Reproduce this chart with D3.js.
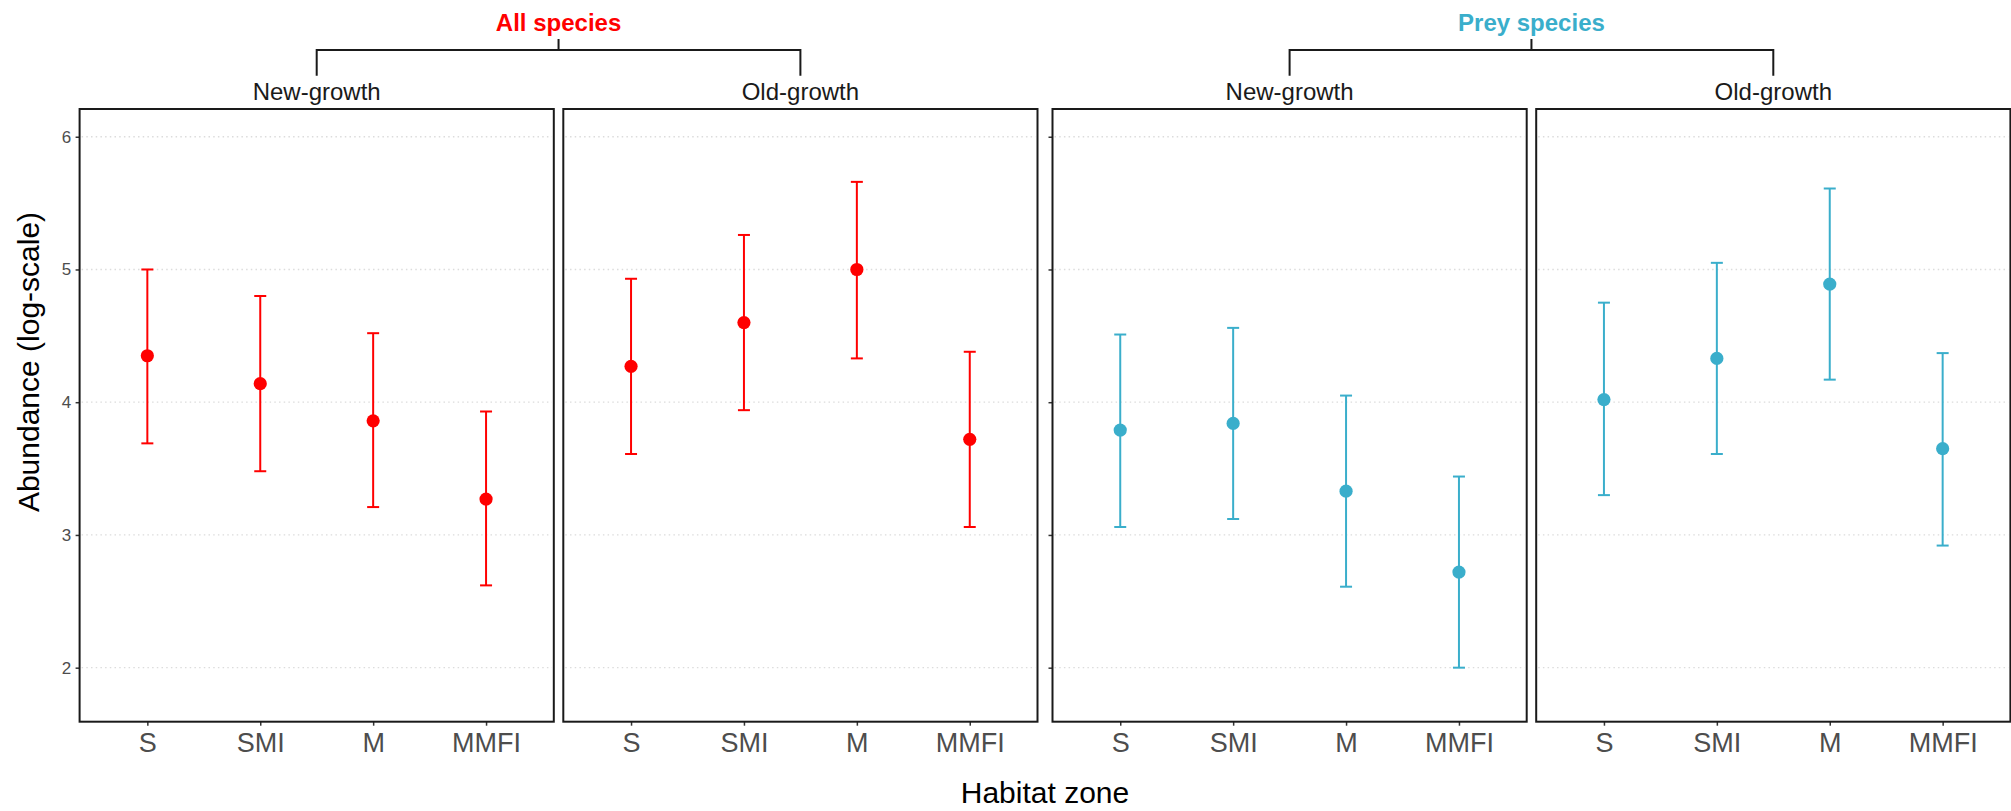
<!DOCTYPE html>
<html>
<head>
<meta charset="utf-8">
<script src="https://cdn.jsdelivr.net/npm/d3@7"></script>
<style>
  html, body { margin: 0; padding: 0; background: #fff; }
  svg { display: block; }
</style>
</head>
<body>
<div id="chart"></div>
<script>
const zones = ["S", "SMI", "M", "MMFI"];
const habitats = ["New-growth", "Old-growth"];
const groups = ["All species", "Prey species"];
const groupColors = ["#FF0000", "#3AAECB"];
const yTicks = [2, 3, 4, 5, 6];

// All species
const allNewMean = [4.35, 4.14, 3.86, 3.27];
const allNewLower = [3.69, 3.48, 3.21, 2.62];
const allNewUpper = [5.00, 4.80, 4.52, 3.93];
const allOldMean = [4.27, 4.60, 5.00, 3.72];
const allOldLower = [3.61, 3.94, 4.33, 3.06];
const allOldUpper = [4.93, 5.26, 5.66, 4.38];

// Prey species
const preyNewMean = [3.79, 3.84, 3.33, 2.72];
const preyNewLower = [3.06, 3.12, 2.61, 2.00];
const preyNewUpper = [4.51, 4.56, 4.05, 3.44];
const preyOldMean = [4.02, 4.33, 4.89, 3.65];
const preyOldLower = [3.30, 3.61, 4.17, 2.92];
const preyOldUpper = [4.75, 5.05, 5.61, 4.37];

const panels = [
  { group: 0, habitat: 0, mean: allNewMean, lo: allNewLower, hi: allNewUpper },
  { group: 0, habitat: 1, mean: allOldMean, lo: allOldLower, hi: allOldUpper },
  { group: 1, habitat: 0, mean: preyNewMean, lo: preyNewLower, hi: preyNewUpper },
  { group: 1, habitat: 1, mean: preyOldMean, lo: preyOldLower, hi: preyOldUpper }
];

const width = 2011, height = 811;
const font = "'Liberation Sans', Arial, Helvetica, sans-serif";
const panelTop = 109, panelBottom = 721.7;
const left0 = 79.6, panelW = 474.2, innerGap = 9.5, groupGap = 15;

const panelLeft = i => left0 + i * (panelW + innerGap) + (i >= 2 ? groupGap - innerGap : 0);

const y = d3.scaleLinear().domain([1.593, 6.209]).range([panelBottom, panelTop]);

const svg = d3.select("#chart").append("svg")
  .attr("width", width)
  .attr("height", height)
  .attr("viewBox", [0, 0, width, height])
  .style("font-family", font);

panels.forEach((p, i) => {
  const x0 = panelLeft(i);
  const x = d3.scalePoint().domain(zones).range([x0, x0 + panelW]).padding(0.6);
  const color = groupColors[p.group];
  const g = svg.append("g");

  // dotted grid
  g.selectAll("line.grid")
    .data(yTicks)
    .join("line")
    .attr("class", "grid")
    .attr("x1", x0 + 2).attr("x2", x0 + panelW - 2)
    .attr("y1", d => y(d)).attr("y2", d => y(d))
    .attr("stroke", "#dcdcdc")
    .attr("stroke-width", 1.3)
    .attr("stroke-dasharray", "1.5,3.2");

  // x axis
  const xa = g.append("g")
    .attr("transform", `translate(0,${panelBottom})`)
    .call(d3.axisBottom(x).tickSize(4).tickPadding(7).tickSizeOuter(0));
  xa.select(".domain").remove();
  xa.selectAll("line").attr("stroke", "#333").attr("stroke-width", 1.5);
  xa.selectAll("text").attr("fill", "#4D4D4D").attr("font-size", 27).attr("font-family", font);

  // y axis (ticks on first panel of each group, labels only on the first)
  if (p.habitat === 0) {
    const ya = g.append("g")
      .attr("transform", `translate(${x0},0)`)
      .call(d3.axisLeft(y).tickValues(yTicks).tickFormat(d3.format("d"))
        .tickSize(4).tickPadding(4.5).tickSizeOuter(0));
    ya.select(".domain").remove();
    ya.selectAll("line").attr("stroke", "#333").attr("stroke-width", 1.5);
    ya.selectAll("text")
      .attr("fill", "#4D4D4D")
      .attr("font-size", 17)
      .attr("font-family", font)
      .style("display", p.group === 0 ? null : "none");
  }

  const rows = zones.map((z, j) => ({ zone: z, mean: p.mean[j], lo: p.lo[j], hi: p.hi[j] }));

  // error bars
  g.selectAll("line.bar")
    .data(rows)
    .join("line")
    .attr("class", "bar")
    .attr("x1", d => x(d.zone)).attr("x2", d => x(d.zone))
    .attr("y1", d => y(d.lo)).attr("y2", d => y(d.hi))
    .attr("stroke", color).attr("stroke-width", 2);

  ["lo", "hi"].forEach(k => {
    g.selectAll(`line.cap-${k}`)
      .data(rows)
      .join("line")
      .attr("class", `cap-${k}`)
      .attr("x1", d => x(d.zone) - 6).attr("x2", d => x(d.zone) + 6)
      .attr("y1", d => y(d[k])).attr("y2", d => y(d[k]))
      .attr("stroke", color).attr("stroke-width", 2);
  });

  g.selectAll("circle")
    .data(rows)
    .join("circle")
    .attr("cx", d => x(d.zone))
    .attr("cy", d => y(d.mean))
    .attr("r", 6.6)
    .attr("fill", color);

  // panel border
  g.append("rect")
    .attr("x", x0).attr("y", panelTop)
    .attr("width", panelW).attr("height", panelBottom - panelTop)
    .attr("fill", "none")
    .attr("stroke", "#1a1a1a")
    .attr("stroke-width", 2);

  // strip label
  svg.append("text")
    .attr("x", x0 + panelW / 2)
    .attr("y", 100)
    .attr("text-anchor", "middle")
    .attr("font-size", 24)
    .attr("fill", "#1a1a1a")
    .text(habitats[p.habitat]);
});

// group brackets and titles
groups.forEach((name, gi) => {
  const c1 = panelLeft(gi * 2) + panelW / 2;
  const c2 = panelLeft(gi * 2 + 1) + panelW / 2;
  const mid = (c1 + c2) / 2;
  svg.append("path")
    .attr("d", `M${c1},75.7V50H${c2}V75.7M${mid},50V39`)
    .attr("fill", "none")
    .attr("stroke", "#1a1a1a")
    .attr("stroke-width", 2);
  svg.append("text")
    .attr("x", mid)
    .attr("y", 30.5)
    .attr("text-anchor", "middle")
    .attr("font-size", 24)
    .attr("font-weight", "bold")
    .attr("fill", groupColors[gi])
    .text(name);
});

// axis titles
svg.append("text")
  .attr("x", (left0 + panelLeft(3) + panelW) / 2)
  .attr("y", 803)
  .attr("text-anchor", "middle")
  .attr("font-size", 30)
  .attr("fill", "#000")
  .text("Habitat zone");

svg.append("text")
  .attr("transform", `translate(39,362) rotate(-90)`)
  .attr("text-anchor", "middle")
  .attr("font-size", 30)
  .attr("fill", "#000")
  .text("Abundance (log-scale)");
</script>
</body>
</html>
